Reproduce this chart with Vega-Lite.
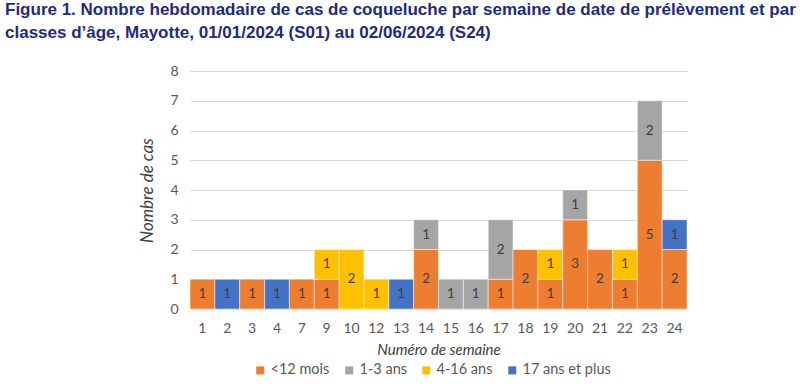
{
  "$schema": "https://vega.github.io/schema/vega-lite/v6.json",
  "width": 497,
  "height": 238,
  "autosize": {"type": "none"},
  "padding": {"left": 190, "top": 71, "right": 113, "bottom": 83},
  "background": "white",
  "title": {
    "text": ["Figure 1. Nombre hebdomadaire de cas de coqueluche par semaine de date de prélèvement et par", "classes d’âge, Mayotte, 01/01/2024 (S01) au 02/06/2024 (S24)"],
    "anchor": "start",
    "frame": "group",
    "dx": -185,
    "offset": 22,
    "font": "Liberation Sans",
    "fontSize": 17,
    "fontWeight": "bold",
    "color": "#1F2A80",
    "lineHeight": 23
  },
  "config": {
    "view": {"stroke": null},
    "axis": {"labelFont": "Lato", "titleFont": "Lato"},
    "legend": {"labelFont": "Lato"}
  },
  "data": {
    "values": [
      {"semaine": "1", "classe": "<12 mois", "ordre": 1, "cas": 1},
      {"semaine": "2", "classe": "17 ans et plus", "ordre": 4, "cas": 1},
      {"semaine": "3", "classe": "<12 mois", "ordre": 1, "cas": 1},
      {"semaine": "4", "classe": "17 ans et plus", "ordre": 4, "cas": 1},
      {"semaine": "7", "classe": "<12 mois", "ordre": 1, "cas": 1},
      {"semaine": "9", "classe": "<12 mois", "ordre": 1, "cas": 1},
      {"semaine": "9", "classe": "4-16 ans", "ordre": 3, "cas": 1},
      {"semaine": "10", "classe": "4-16 ans", "ordre": 3, "cas": 2},
      {"semaine": "12", "classe": "4-16 ans", "ordre": 3, "cas": 1},
      {"semaine": "13", "classe": "17 ans et plus", "ordre": 4, "cas": 1},
      {"semaine": "14", "classe": "<12 mois", "ordre": 1, "cas": 2},
      {"semaine": "14", "classe": "1-3 ans", "ordre": 2, "cas": 1},
      {"semaine": "15", "classe": "1-3 ans", "ordre": 2, "cas": 1},
      {"semaine": "16", "classe": "1-3 ans", "ordre": 2, "cas": 1},
      {"semaine": "17", "classe": "<12 mois", "ordre": 1, "cas": 1},
      {"semaine": "17", "classe": "1-3 ans", "ordre": 2, "cas": 2},
      {"semaine": "18", "classe": "<12 mois", "ordre": 1, "cas": 2},
      {"semaine": "19", "classe": "<12 mois", "ordre": 1, "cas": 1},
      {"semaine": "19", "classe": "4-16 ans", "ordre": 3, "cas": 1},
      {"semaine": "20", "classe": "<12 mois", "ordre": 1, "cas": 3},
      {"semaine": "20", "classe": "1-3 ans", "ordre": 2, "cas": 1},
      {"semaine": "21", "classe": "<12 mois", "ordre": 1, "cas": 2},
      {"semaine": "22", "classe": "<12 mois", "ordre": 1, "cas": 1},
      {"semaine": "22", "classe": "4-16 ans", "ordre": 3, "cas": 1},
      {"semaine": "23", "classe": "<12 mois", "ordre": 1, "cas": 5},
      {"semaine": "23", "classe": "1-3 ans", "ordre": 2, "cas": 2},
      {"semaine": "24", "classe": "<12 mois", "ordre": 1, "cas": 2},
      {"semaine": "24", "classe": "17 ans et plus", "ordre": 4, "cas": 1}
    ]
  },
  "transform": [
    {"stack": "cas", "groupby": ["semaine"], "sort": [{"field": "ordre"}], "as": ["y0", "y1"]},
    {"calculate": "(datum.y0 + datum.y1) / 2", "as": "ymid"}
  ],
  "encoding": {
    "x": {
      "field": "semaine",
      "type": "ordinal",
      "sort": ["1","2","3","4","7","9","10","12","13","14","15","16","17","18","19","20","21","22","23","24"],
      "scale": {"paddingInner": 0, "paddingOuter": 0},
      "axis": {
        "title": "Numéro de semaine",
        "titleFontStyle": "italic",
        "titleFontWeight": "normal",
        "titleFontSize": 15,
        "titleColor": "#404040",
        "titlePadding": 7,
        "labelAngle": 0,
        "labelFontSize": 14,
        "labelColor": "#595959",
        "labelPadding": 12,
        "ticks": false,
        "domain": false
      }
    },
    "y": {
      "field": "y0",
      "type": "quantitative",
      "scale": {"domain": [0, 8]},
      "axis": {
        "title": "Nombre de cas",
        "titleFontStyle": "italic",
        "titleFontWeight": "normal",
        "titleFontSize": 17,
        "titleColor": "#404040",
        "titlePadding": 13,
        "values": [0,1,2,3,4,5,6,7,8],
        "labelOverlap": false,
        "labelFontSize": 14,
        "labelColor": "#595959",
        "labelPadding": 12,
        "ticks": false,
        "domain": false,
        "gridColor": "#D9D9D9",
        "gridWidth": 1.2
      }
    }
  },
  "layer": [
    {
      "mark": {"type": "bar", "stroke": "white", "strokeWidth": 0.5},
      "encoding": {
        "y2": {"field": "y1"},
        "color": {
          "field": "classe",
          "type": "nominal",
          "scale": {
            "domain": ["<12 mois", "1-3 ans", "4-16 ans", "17 ans et plus"],
            "range": ["#ED7D31", "#A5A5A5", "#FFC000", "#4472C4"]
          },
          "legend": {
            "title": null,
            "orient": "none",
            "legendX": 63,
            "legendY": 292,
            "direction": "horizontal",
            "symbolType": "square",
            "symbolSize": 64,
            "symbolStrokeWidth": 0,
            "labelFontSize": 14.5,
            "labelColor": "#595959",
            "columnPadding": 12,
            "labelOffset": 3
          }
        }
      }
    },
    {
      "mark": {"type": "text", "fontSize": 13.5, "color": "#404040", "font": "Lato"},
      "encoding": {
        "y": {"field": "ymid", "type": "quantitative"},
        "text": {"field": "cas", "type": "quantitative"}
      }
    }
  ]
}
